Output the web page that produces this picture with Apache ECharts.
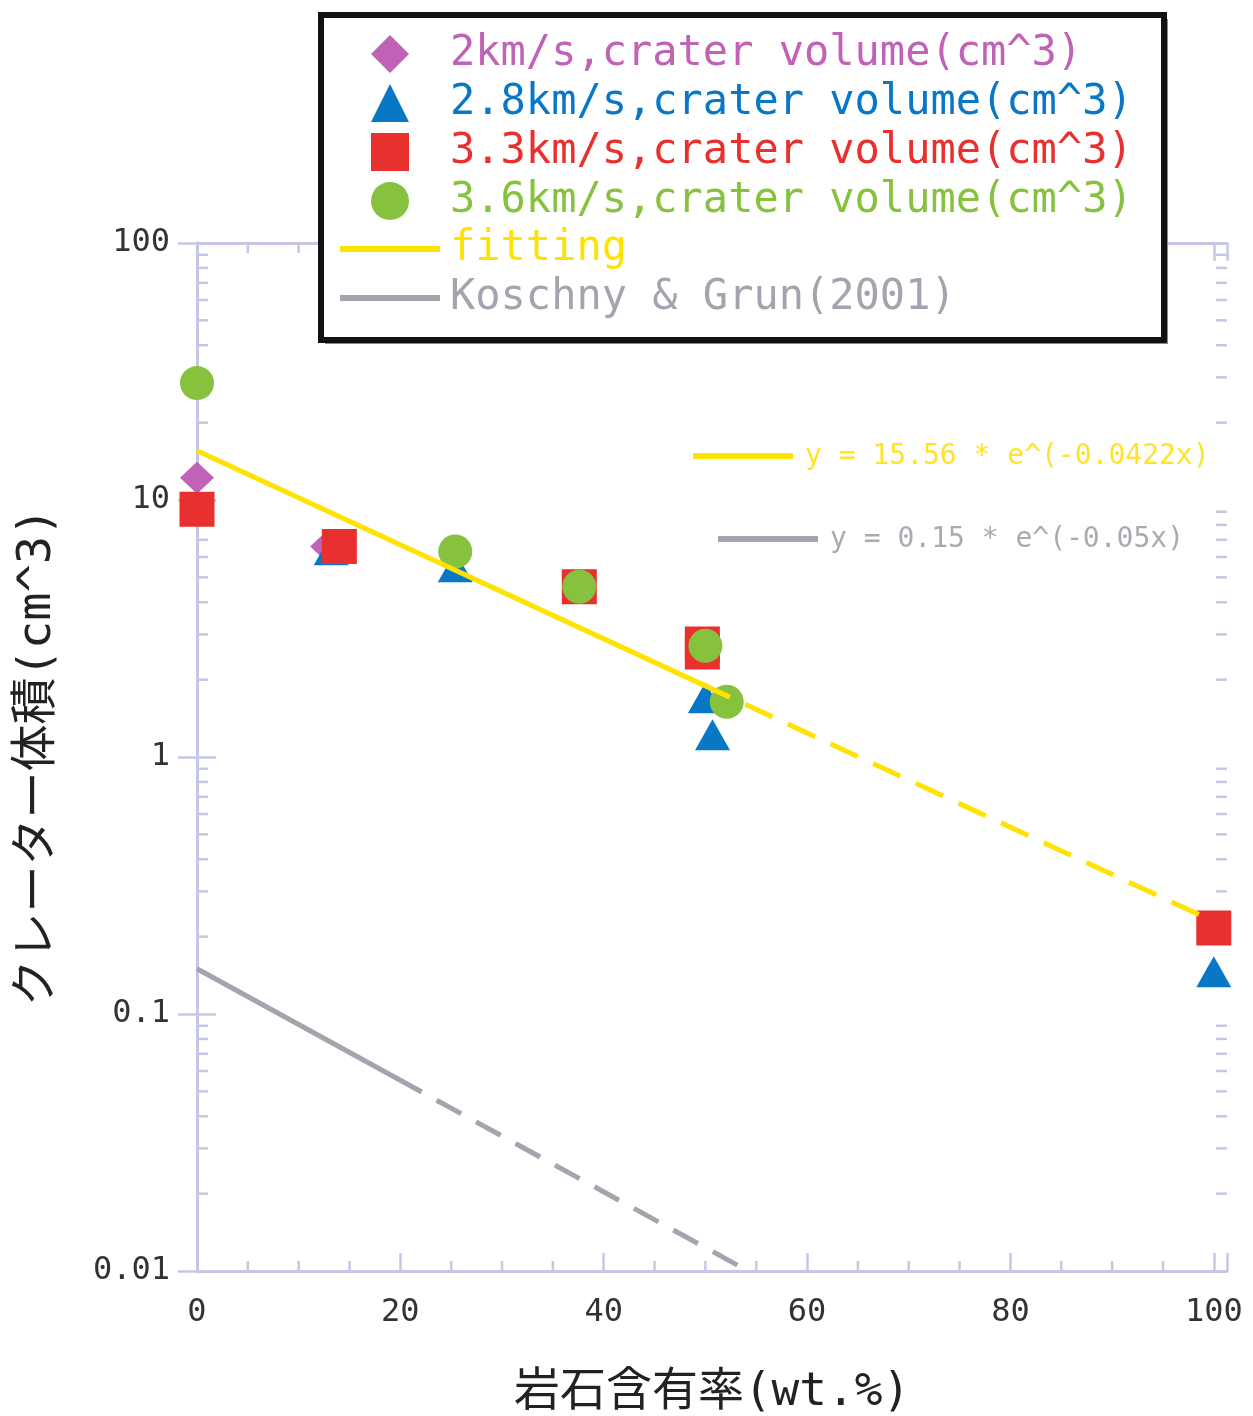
<!DOCTYPE html>
<html><head><meta charset="utf-8">
<script src="https://cdn.jsdelivr.net/npm/echarts@6/dist/echarts.min.js"></script>
<style>html,body{margin:0;padding:0;background:#fff}#c{width:1253px;height:1416px}</style>
</head><body><div id="c"></div>
<script>
// ---- data ----
const xTickLabels = [0, 20, 40, 60, 80, 100];
const yTickLabels = ['0.01', '0.1', '1', '10', '100'];
const xMinorTicks = [5,10,15,25,30,35,45,50,55,65,70,75,85,90,95];
const yMinorTicks = [0.02,0.03,0.04,0.05,0.06,0.07,0.08,0.09,
                     0.2,0.3,0.4,0.5,0.6,0.7,0.8,0.9,
                     2,3,4,5,6,7,8,9,
                     20,30,40,50,60,70,80,90];
const seriesNames = ['2km/s,crater volume(cm^3)', '2.8km/s,crater volume(cm^3)',
                     '3.3km/s,crater volume(cm^3)', '3.6km/s,crater volume(cm^3)',
                     'fitting', 'Koschny & Grun(2001)'];
const v2Data  = [[0, 12.2], [12.8, 6.6]];
const v28Data = [[13.2, 6.4], [25.4, 5.5], [50.0, 1.70], [50.7, 1.22], [100, 0.146]];
const v33Data = [[0, 9.2], [14.0, 6.6], [37.6, 4.6], [49.7, 2.75], [49.7, 2.56], [100, 0.216]];
const v36Data = [[0, 28.5], [25.4, 6.3], [37.6, 4.6], [50.0, 2.71], [52.1, 1.64]];
const fitSolid     = [[0, 15.56], [52.4, 1.71]];
const fitDashed    = [[52.4, 1.71], [100, 0.229]];
const koschnySolid  = [[0, 0.15], [22.1, 0.0497]];
const koschnyDashed = [[22.1, 0.0497], [54.2, 0.01]];
const fitEquation = 'y = 15.56 * e^(-0.0422x)';
const koschnyEquation = 'y = 0.15 * e^(-0.05x)';

// ---- style ----
const MONO = "'DejaVu Sans Mono', 'Noto Sans CJK JP', monospace";
const axisColor = '#c6c6e6';
const cPurple = '#c062b6', cBlue = '#0877c6', cRed = '#e8302e', cGreen = '#86c23e',
      cYellow = '#ffe300', cGray = '#a2a5ad';
const X_MAX = 101.3;

const chart = echarts.init(document.getElementById('c'), null, {renderer: 'canvas'});

function xMinorRender(params, api) {
  const x = api.value(0);
  const pb = api.coord([x, 0.01]);
  const pt = api.coord([x, 100]);
  return {type: 'group', children: [
    {type: 'line', shape: {x1: pb[0], y1: pb[1], x2: pb[0], y2: pb[1] - 10}, style: {stroke: axisColor, lineWidth: 2.5}},
    {type: 'line', shape: {x1: pt[0], y1: pt[1], x2: pt[0], y2: pt[1] + 10}, style: {stroke: axisColor, lineWidth: 2.5}}
  ]};
}
function yMinorRender(params, api) {
  const y = api.value(1);
  const pl = api.coord([0, y]);
  const pr = api.coord([X_MAX, y]);
  return {type: 'group', children: [
    {type: 'line', shape: {x1: pl[0], y1: pl[1], x2: pl[0] + 11, y2: pl[1]}, style: {stroke: axisColor, lineWidth: 2.5}},
    {type: 'line', shape: {x1: pr[0], y1: pr[1], x2: pr[0] - 11, y2: pr[1]}, style: {stroke: axisColor, lineWidth: 2.5}}
  ]};
}

const xAxisBase = {
  type: 'value', min: 0, max: X_MAX, interval: 20,
  axisLine: {show: true, lineStyle: {color: axisColor, width: 3}},
  axisTick: {show: true, inside: true, length: 18, lineStyle: {color: axisColor, width: 2.5}},
  splitLine: {show: false}
};
const yAxisBase = {
  type: 'log', logBase: 10, min: 0.01, max: 100,
  axisLine: {show: true, lineStyle: {color: axisColor, width: 3}},
  axisTick: {show: true, inside: true, length: 19, lineStyle: {color: axisColor, width: 2.5}},
  splitLine: {show: false}, minorTick: {show: false}
};

const legendColors = [cPurple, cBlue, cRed, cGreen, cYellow, cGray];
const legendText = {fontSize: 42, fontFamily: MONO, lineHeight: 42};

chart.setOption({
  animation: false,
  backgroundColor: '#fff',
  grid: {left: 197, right: 26, top: 243, bottom: 145, containLabel: false, outerBoundsMode: 'none'},
  xAxis: [
    Object.assign({}, xAxisBase, {
      position: 'bottom',
      axisLabel: {show: true, margin: 26, color: '#333', fontSize: 32, fontFamily: MONO,
        formatter: v => xTickLabels.indexOf(v) >= 0 ? String(v) : ''},
      name: '岩石含有率(wt.%)', nameLocation: 'middle', nameGap: 99,
      nameTextStyle: {fontSize: 46, color: '#222', fontFamily: MONO}
    }),
    Object.assign({}, xAxisBase, {position: 'top', axisLabel: {show: false}})
  ],
  yAxis: [
    Object.assign({}, yAxisBase, {
      position: 'left',
      axisLabel: {show: true, margin: 27, color: '#333', fontSize: 32, fontFamily: MONO,
        formatter: v => {
          const s = yTickLabels.find(t => Math.abs(Math.log10(+t) - Math.log10(v)) < 1e-6);
          return s || '';
        }},
      name: 'クレーター体積(cm^3)', nameLocation: 'middle', nameGap: 136,
      nameTextStyle: {fontSize: 47, color: '#222', fontFamily: MONO}
    }),
    Object.assign({}, yAxisBase, {position: 'right', axisLabel: {show: false}})
  ],
  legend: [
    {
      orient: 'vertical', left: 371, top: 33, padding: 0, z: 30,
      itemWidth: 38, itemHeight: 38, itemGap: 7, selectedMode: false,
      textStyle: Object.assign({padding: [0, 0, 0, 36]}, legendText),
      data: seriesNames.slice(0, 4).map((n, i) => ({name: n, textStyle: {color: legendColors[i]}}))
    },
    {
      orient: 'vertical', left: 340, top: 228, padding: 0, z: 30,
      itemWidth: 100, itemHeight: 38, itemGap: 7, selectedMode: false,
      textStyle: Object.assign({padding: [0, 0, 0, 5]}, legendText),
      data: seriesNames.slice(4).map((n, i) => ({
        name: n, icon: 'path://M0,0H100V6H0Z',
        itemStyle: {color: legendColors[i + 4]},
        textStyle: {color: legendColors[i + 4]}
      }))
    }
  ],
  graphic: [
    {type: 'rect', z: 25, shape: {x: 325, y: 19, width: 843, height: 325}, style: {fill: '#8a8a8a'}},
    {type: 'rect', z: 26, shape: {x: 321, y: 15, width: 843, height: 325}, style: {fill: '#fff', stroke: '#111', lineWidth: 6}},
    {type: 'line', z: 10, shape: {x1: 693, y1: 456, x2: 793, y2: 456}, style: {stroke: cYellow, lineWidth: 6}},
    {type: 'text', z: 10, x: 805, y: 457, style: {text: fitEquation, fill: '#ffe32a', font: '28px ' + MONO, align: 'left', verticalAlign: 'middle'}},
    {type: 'line', z: 10, shape: {x1: 718, y1: 539, x2: 818, y2: 539}, style: {stroke: cGray, lineWidth: 6}},
    {type: 'text', z: 10, x: 830, y: 540, style: {text: koschnyEquation, fill: '#a8abb2', font: '28px ' + MONO, align: 'left', verticalAlign: 'middle'}}
  ],
  series: [
    {type: 'custom', name: 'xminor', renderItem: xMinorRender, data: xMinorTicks.map(v => [v, 1]), silent: true, z: 1},
    {type: 'custom', name: 'yminor', renderItem: yMinorRender, data: yMinorTicks.map(v => [0, v]), silent: true, z: 1},
    {type: 'scatter', name: seriesNames[0], data: v2Data, symbol: 'diamond', symbolSize: [34, 32], itemStyle: {color: cPurple, opacity: 1}, z: 3},
    {type: 'scatter', name: seriesNames[1], data: v28Data, symbol: 'triangle', symbolSize: [35, 31], itemStyle: {color: cBlue, opacity: 1}, z: 3},
    {type: 'scatter', name: seriesNames[2], data: v33Data, symbol: 'rect', symbolSize: 35, itemStyle: {color: cRed, opacity: 1}, z: 3},
    {type: 'scatter', name: seriesNames[3], data: v36Data, symbol: 'circle', symbolSize: 34, itemStyle: {color: cGreen, opacity: 1}, z: 3},
    {type: 'line', name: seriesNames[4], data: fitSolid, symbol: 'none', color: cYellow, lineStyle: {color: cYellow, width: 5}, z: 4},
    {type: 'line', name: seriesNames[4], data: fitDashed, symbol: 'none', color: cYellow, lineStyle: {color: cYellow, width: 5, type: [30, 17], dashOffset: 30}, z: 4},
    {type: 'line', name: seriesNames[5], data: koschnySolid, symbol: 'none', color: cGray, lineStyle: {color: cGray, width: 5}, z: 4},
    {type: 'line', name: seriesNames[5], data: koschnyDashed, symbol: 'none', color: cGray, lineStyle: {color: cGray, width: 5, type: [28, 17], dashOffset: 28}, z: 4}
  ]
});
</script></body></html>
